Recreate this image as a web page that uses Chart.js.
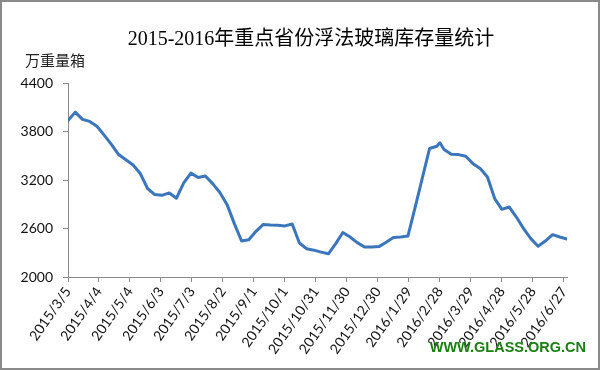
<!DOCTYPE html>
<html>
<head>
<meta charset="utf-8">
<script src="https://cdn.jsdelivr.net/npm/chart.js@4"></script>
<style>
    body { margin: 0; background: #fff; }
    #wrap { width: 600px; height: 370px; }
</style>
</head>
<body>
<div id="wrap"><canvas id="grafico" width="600" height="370"></canvas></div>
<script>
// fechas semanales (jueves) y stock en 万重量箱
const fechas = [
    "2015/3/5", "2015/3/12", "2015/3/19", "2015/3/26", "2015/4/2", "2015/4/9", "2015/4/16", "2015/4/23", "2015/4/30",
    "2015/5/7", "2015/5/14", "2015/5/21", "2015/5/28", "2015/6/4", "2015/6/11", "2015/6/18", "2015/6/25",
    "2015/7/2", "2015/7/9", "2015/7/16", "2015/7/23", "2015/7/30", "2015/8/6", "2015/8/13", "2015/8/20", "2015/8/27",
    "2015/9/3", "2015/9/10", "2015/9/17", "2015/9/24", "2015/10/1", "2015/10/8", "2015/10/15", "2015/10/22", "2015/10/29",
    "2015/11/5", "2015/11/12", "2015/11/19", "2015/11/26", "2015/12/3", "2015/12/10", "2015/12/17", "2015/12/24", "2015/12/31",
    "2016/1/7", "2016/1/14", "2016/1/21", "2016/1/28", "2016/2/4", "2016/2/11", "2016/2/18", "2016/2/25", "2016/2/28",
    "2016/3/3", "2016/3/10", "2016/3/17", "2016/3/24", "2016/3/31", "2016/4/7", "2016/4/14", "2016/4/21", "2016/4/28",
    "2016/5/5", "2016/5/12", "2016/5/19", "2016/5/26", "2016/6/2", "2016/6/9", "2016/6/16", "2016/6/23", "2016/6/30"
];

const stock = [
    3935, 4040, 3950, 3925, 3865, 3755, 3640, 3515, 3450,
    3385, 3280, 3095, 3020, 3010, 3040, 2975, 3165,
    3285, 3230, 3250, 3155, 3045, 2895, 2660, 2445, 2460,
    2565, 2650, 2643, 2640, 2632, 2655, 2420, 2350, 2332,
    2308, 2287, 2410, 2550, 2495, 2425, 2370, 2372, 2376,
    2430, 2490, 2496, 2507, 2862, 3227, 3590, 3617, 3660,
    3578, 3518, 3514, 3493, 3402, 3341, 3237, 2970, 2837,
    2866, 2742, 2599, 2475, 2380, 2445, 2524, 2495, 2470
];

// etiquetas del eje X, cada 30 dias
const etiquetasX = [
    "2015/3/5", "2015/4/4", "2015/5/4", "2015/6/3", "2015/7/3", "2015/8/2", "2015/9/1", "2015/10/1",
    "2015/10/31", "2015/11/30", "2015/12/30", "2016/1/29", "2016/2/28", "2016/3/29", "2016/4/28",
    "2016/5/28", "2016/6/27"
];

const titulo = "2015-2016年重点省份浮法玻璃库存量统计";
const unidad = "万重量箱";
const marca = "WWW.GLASS.ORG.CN";

function dias(f) {
    const p = f.split("/").map(Number);
    return Math.round((Date.UTC(p[0], p[1] - 1, p[2]) - Date.UTC(2015, 2, 5)) / 86400000);
}

const puntos = fechas.map((f, i) => ({ x: dias(f), y: stock[i] }));

const textos = {
    id: "textos",
    afterDraw(chart) {
        const ctx = chart.ctx;
        ctx.save();
        ctx.fillStyle = "#000";
        ctx.textBaseline = "middle";
        ctx.textAlign = "center";
        ctx.font = '20px "Liberation Serif", "Noto Sans CJK SC"';
        ctx.fillText(titulo, 311, 40);

        ctx.textAlign = "left";
        ctx.font = '15px "Noto Sans CJK SC"';
        ctx.fillStyle = "#222";
        ctx.fillText(unidad, 25, 60);

        ctx.font = 'bold 14.5px "Liberation Sans"';
        ctx.fillStyle = "#1a8012";
        ctx.textAlign = "right";
        ctx.fillText(marca, 586, 348);

        ctx.strokeStyle = "#8a8a8a";
        ctx.lineWidth = 2;
        ctx.strokeRect(1, 1, 598, 368);
        ctx.restore();
    }
};

new Chart(document.getElementById("grafico"), {
    type: "line",
    data: {
        datasets: [{
            data: puntos,
            borderColor: "#3b76bd",
            borderWidth: 3,
            pointRadius: 0,
            tension: 0,
            borderJoinStyle: "round",
            borderCapStyle: "round"
        }]
    },
    options: {
        responsive: false,
        animation: false,
        devicePixelRatio: 1,
        layout: { padding: { top: 83, right: 33, left: 0, bottom: 0 } },
        plugins: {
            legend: { display: false },
            tooltip: { enabled: false }
        },
        scales: {
            x: {
                type: "linear",
                min: 0,
                max: 483,
                afterFit(s) {
                    s.height = 93;
                    s.paddingLeft = 0;
                    s.paddingRight = 0;
                },
                border: { color: "#8a8a8a", width: 1 },
                grid: { drawOnChartArea: false, drawTicks: true, tickLength: 5, color: "#8a8a8a" },
                ticks: {
                    stepSize: 30,
                    includeBounds: false,
                    autoSkip: false,
                    minRotation: 55,
                    maxRotation: 55,
                    padding: 2,
                    color: "#111",
                    font: { family: "Lato", size: 14 },
                    callback: v => etiquetasX[v / 30]
                }
            },
            y: {
                min: 2000,
                max: 4400,
                afterFit(s) {
                    s.width = 68;
                },
                border: { color: "#8a8a8a", width: 1 },
                grid: { drawOnChartArea: false, drawTicks: true, tickLength: 5, color: "#8a8a8a" },
                ticks: {
                    stepSize: 600,
                    padding: 10,
                    color: "#111",
                    font: { family: "Lato", size: 14 },
                    callback: v => String(v)
                }
            }
        }
    },
    plugins: [textos]
});
</script>
</body>
</html>
